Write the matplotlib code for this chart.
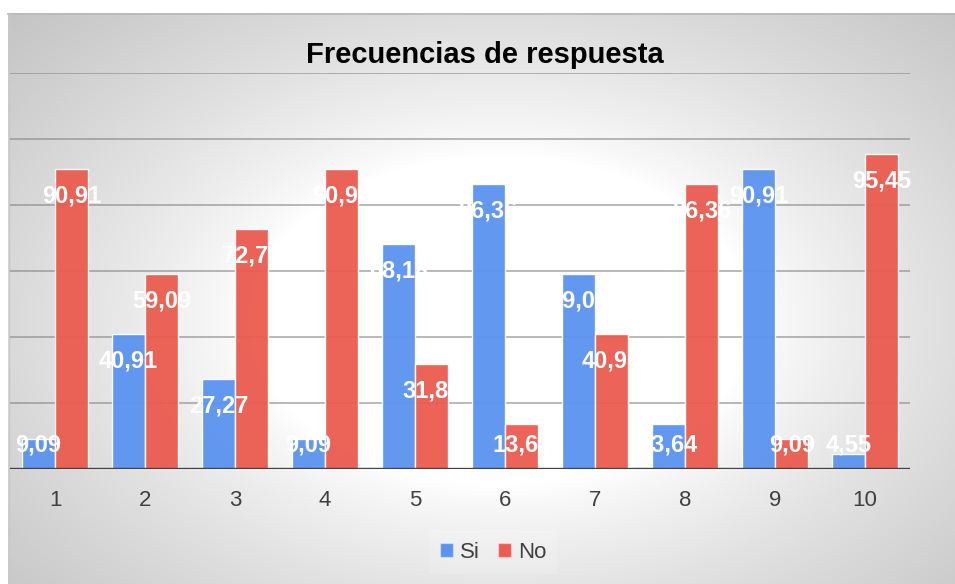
import numpy as np
import matplotlib
matplotlib.use("Agg")
import matplotlib.pyplot as plt
from matplotlib.patches import Patch

plt.rcParams['font.family'] = ['Liberation Sans', 'DejaVu Sans']

categories = ['1', '2', '3', '4', '5', '6', '7', '8', '9', '10']
si_values = [9.09, 40.91, 27.27, 9.09, 68.18, 86.36, 59.09, 13.64, 90.91, 4.55]
no_values = [90.91, 59.09, 72.73, 90.91, 31.82, 13.64, 40.91, 86.36, 9.09, 95.45]
si_labels = ['9,09', '40,91', '27,27', '9,09', '68,18', '86,36', '59,09', '13,64', '90,91', '4,55']
no_labels = ['90,91', '59,09', '72,73', '90,91', '31,82', '13,64', '40,91', '86,36', '9,09', '95,45']
series_names = ['Si', 'No']
title = 'Frecuencias de respuesta'

W, H = 955, 584
fig = plt.figure(figsize=(W / 100, H / 100), dpi=100)

# background radial gradient
bg = fig.add_axes([0, 0, 1, 1], zorder=0)
yy, xx = np.mgrid[0:H, 0:W]
cx, cy, ax_, ay_ = 500, 320, 500, 330
d = np.sqrt(((xx - cx) / ax_) ** 2 + ((yy - cy) / ay_) ** 2)
t = np.clip((d - 0.5) / 0.87, 0, 1) ** 0.8
val = 255 - 60 * t
val[yy < 13] = 255
val[xx < 8] = 255
img = np.dstack([val, val, val]) / 255.0
bg.imshow(img, extent=(0, W, H, 0), aspect='auto', interpolation='bilinear')
bg.plot([8, W], [13.5, 13.5], color='#B8B8B8', lw=1.2)
bg.plot([8.5, 8.5], [13, H], color='#C8C8C8', lw=1)
bg.set_xlim(0, W)
bg.set_ylim(H, 0)
bg.axis('off')

# main axes
left, right, top, base = 10, 910, 73, 469
ax = fig.add_axes([left / W, (H - base) / H, (right - left) / W, (base - top) / H], zorder=1)
ax.patch.set_alpha(0)
x = np.arange(1, len(categories) + 1)
bw = 0.365
off = 0.185
ax.set_xlim(0.5, len(categories) + 0.5)
ax.set_ylim(0, 120)
for g in range(20, 121, 20):
    ax.axhline(g, color='#808080', lw=1.1, alpha=0.7, zorder=1)

blue = '#5B93F0'
red = '#EB5B4F'
ax.bar(x - off, si_values, bw, color=blue, alpha=0.95, edgecolor=(1, 1, 1, 0.2), lw=1, zorder=2)
ax.bar(x + off, no_values, bw, color=red, alpha=0.95, edgecolor=(1, 1, 1, 0.2), lw=1, zorder=2)

for xi, v, lab in zip(x - off, si_values, si_labels):
    ax.text(xi, max(v - 8.1, 7.3), lab, ha='center', va='center', color='white',
            fontsize=17, fontweight='bold', zorder=3)
for xi, v, lab in zip(x + off, no_values, no_labels):
    ax.text(xi, max(v - 8.1, 7.3), lab, ha='center', va='center', color='white',
            fontsize=17, fontweight='bold', zorder=3)

ax.axhline(0, color='#404040', lw=2.4, zorder=4)
for s in ax.spines.values():
    s.set_visible(False)
ax.set_xticks(x)
ax.set_xticklabels(categories, fontsize=16, color='#404040')
ax.tick_params(axis='x', length=0, pad=15)
ax.set_yticks([])

fig.text(485 / W, 1 - 55 / H, title, ha='center', va='center', fontsize=21,
         fontweight='bold', color='black')

handles = [Patch(facecolor=blue, edgecolor=(1, 1, 1, 0.4)), Patch(facecolor=red, edgecolor=(1, 1, 1, 0.4))]
leg = fig.legend(handles, series_names, loc='center', bbox_to_anchor=(493 / W, 1 - 552 / H),
                 ncol=2, fontsize=16, frameon=True, handlelength=0.6, handleheight=0.6,
                 handletextpad=0.3, columnspacing=0.8, borderpad=0.5, fancybox=False,
                 facecolor='white', framealpha=0.15, edgecolor='none')
for t_ in leg.get_texts():
    t_.set_color('#404040')

fig.savefig('out.png', dpi=100)
